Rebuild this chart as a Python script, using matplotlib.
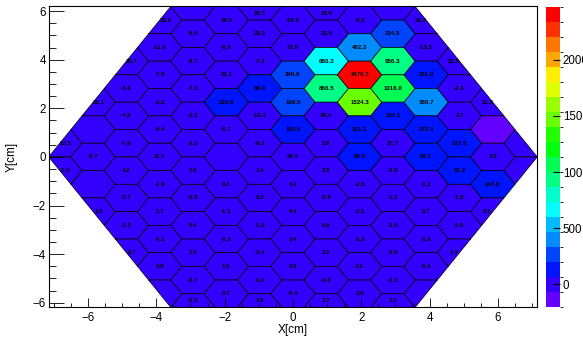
import colorsys

import numpy as np
import matplotlib
matplotlib.use("Agg")
import matplotlib.pyplot as plt
from matplotlib.collections import PolyCollection
from matplotlib.colors import ListedColormap, BoundaryNorm
from matplotlib.ticker import MultipleLocator

plt.rcParams["font.family"] = ["Liberation Sans", "DejaVu Sans"]

# cell contents per hexagon column (x = -7..7), listed top to bottom;
# None = empty cell (no text printed)
col_m7 = [12.5, -7.5]
col_m6 = [25.1, None, -8.7, None, 1.6]
col_m5 = [25.7, -8.6, -4.5, -7.6, 4.2, -3.7, -3.2, 0.7]
col_m4 = [22.8, -11.6, -7.6, -3.2, -6.4, 11.7, -1.9, 1.7, -0.1, 0.6, None]
col_m3 = [None, -6.5, -8.7, -7.3, -2.3, -3.2, 1.6, -0.8, 0.4, 1.3, -0.7, -2.5]
col_m2 = [19.0, -6.8, 20.1, 132.6, -5.7, None, 0.3, -1.1, -0.3, 1.5, 0.7]
col_m1 = [25.3, 29.3, -7.3, 89.0, -10.2, -9.2, 1.4, 0.2, -1.9, -2.4, -0.0, 1.6]
col_0 = [-10.0, 17.9, 249.9, 198.5, 100.9, 34.4, 1.4, 0.4, 3.4, 0.6, -0.4]
col_p1 = [25.9, 12.9, 680.3, 866.5, 38.4, 5.0, 2.5, -2.9, 6.6, 3.1, -0.8, 2.7]
col_p2 = [-6.2, 402.3, 2470.7, 1524.3, 113.2, 68.0, -2.6, -0.1, -3.0, 4.1, 2.0]
col_p3 = [None, 234.5, 956.3, 1016.0, 154.1, 27.7, -0.9, -1.2, -3.5, -3.9, -0.3, 1.3]
col_p4 = [16.3, -13.5, 101.0, 380.7, 170.3, 92.1, -0.1, 0.7, -3.6, -0.4, None]
col_p5 = [22.8, -2.3, 1.7, 137.8, 81.0, -1.8, -2.0, 1.4]
col_p6 = [21.3, -203.0, 2.0, 143.6, 0.8]
col_p7 = [None, None]
columns = [col_m7, col_m6, col_m5, col_m4, col_m3, col_m2, col_m1, col_0,
           col_p1, col_p2, col_p3, col_p4, col_p5, col_p6, col_p7]
column_index = list(range(-7, 8))

# cells drawn without a number: (column, position in column)
hidden_text = [(6, 1)]

z_min = -203.0
z_max = 2470.7
n_contours = 20
cbar_ticks = [0, 500, 1000, 1500, 2000]

r_cell = 0.65
r_det = 11 * r_cell
h_row = np.sqrt(3) * r_cell


def hexagon(cx, cy, r):
    a = np.radians(np.arange(0, 360, 60))
    return np.column_stack([cx + r * np.cos(a), cy + r * np.sin(a)])


def clip(poly, clipper):
    # Sutherland-Hodgman against a convex ccw polygon
    out = list(poly)
    n = len(clipper)
    for k in range(n):
        a, b = clipper[k], clipper[(k + 1) % n]
        side = lambda p: (b[0] - a[0]) * (p[1] - a[1]) - (b[1] - a[1]) * (p[0] - a[0])
        inp, out = out, []
        if not inp:
            break
        prev = inp[-1]
        for cur in inp:
            sc, sp = side(cur), side(prev)
            if sc >= 0:
                if sp < 0:
                    t = sp / (sp - sc)
                    out.append(prev + t * (cur - prev))
                out.append(cur)
            elif sp >= 0:
                t = sp / (sp - sc)
                out.append(prev + t * (cur - prev))
            prev = cur
    return np.array(out)


def area(p):
    x, y = p[:, 0], p[:, 1]
    return 0.5 * abs(np.dot(x, np.roll(y, -1)) - np.dot(y, np.roll(x, -1)))


detector = hexagon(0, 0, r_det)

polys, values, labels, centres = [], [], [], []
for col, vals in zip(column_index, columns):
    cx = 1.5 * r_cell * col
    offs = 0.0 if col % 2 == 0 else 0.5
    cells = []
    for j in range(6, -7, -1):
        cy = (j + offs) * h_row
        p = clip(hexagon(cx, cy, r_cell), detector)
        if len(p) >= 3 and area(p) > 1e-4:
            cells.append(p)
    assert len(cells) == len(vals), (col, len(cells), len(vals))
    for k, (p, v) in enumerate(zip(cells, vals)):
        polys.append(p)
        values.append(0.0 if v is None else v)
        show = v is not None and (col, k) not in hidden_text
        labels.append(f"{v:.1f}" if show else None)
        centres.append(((p[:, 0].min() + p[:, 0].max()) / 2,
                        (p[:, 1].min() + p[:, 1].max()) / 2))

# violet -> red palette, one colour per contour band
palette = []
for k in range(n_contours):
    idx = int((k + 0.99) * 50 / n_contours)
    if idx >= 49:
        palette.append((1.0, 0.0, 0.0))
    else:
        hue = 280 - (idx + 1) * 5.6
        palette.append(colorsys.hls_to_rgb(hue / 360, 0.5, 1.0))
cmap = ListedColormap(palette)
norm = BoundaryNorm(np.linspace(z_min, z_max, n_contours + 1), n_contours)

fig = plt.figure(figsize=(5.83, 3.38), dpi=100)
ax = fig.add_axes([0.0835, 0.0905, 0.838, 0.8905])

pc = PolyCollection(polys, array=np.array(values), cmap=cmap, norm=norm,
                    edgecolors="black", linewidths=0.5)
ax.add_collection(pc)

for (tx, ty), lab in zip(centres, labels):
    if lab is not None:
        ax.text(tx, ty, lab, ha="center", va="center", fontsize=4.4,
                fontweight="bold", color="black")

ax.set_xlim(-r_det, r_det)
ax.set_ylim(-5.5 * h_row, 5.5 * h_row)
ax.xaxis.set_major_locator(MultipleLocator(2))
ax.xaxis.set_minor_locator(MultipleLocator(0.5))
ax.yaxis.set_major_locator(MultipleLocator(2))
ax.yaxis.set_minor_locator(MultipleLocator(0.5))
ax.tick_params(axis="x", which="major", direction="in", length=6.5, width=0.6, labelsize=8.3, pad=3)
ax.tick_params(axis="x", which="minor", direction="in", length=3.2, width=0.6)
ax.tick_params(axis="y", which="major", direction="in", length=10.6, width=0.6, labelsize=8.3, pad=2)
ax.tick_params(axis="y", which="minor", direction="in", length=5.3, width=0.6)
for s in ax.spines.values():
    s.set_linewidth(0.8)

ax.set_xlabel("X[cm]", fontsize=8.5)
ax.set_ylabel("Y[cm]", fontsize=8.5)
ax.xaxis.set_label_coords(0.5, -0.056)
ax.yaxis.set_label_coords(-0.064, 0.5)

cax = fig.add_axes([0.936, 0.0917, 0.0245, 0.8876])
cb = fig.colorbar(pc, cax=cax, ticks=cbar_ticks)
cb.outline.set_visible(False)
cax.tick_params(direction="in", length=5, width=0.8, labelsize=8.3, pad=2)

fig.savefig("out.png", dpi=100)
